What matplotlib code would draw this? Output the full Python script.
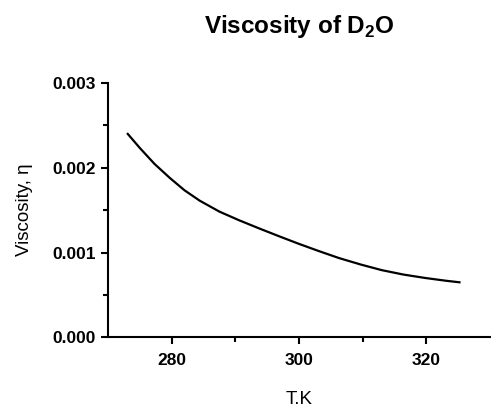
import matplotlib
matplotlib.use("Agg")
import matplotlib.pyplot as plt

plt.rcParams['font.family'] = ['Liberation Sans', 'DejaVu Sans']
plt.rcParams['mathtext.fontset'] = 'custom'
plt.rcParams['mathtext.rm'] = 'Liberation Sans:bold'
plt.rcParams['mathtext.bf'] = 'Liberation Sans:bold'

# temperature (K) and viscosity (Pa s)
temp_K = [273.1, 275.0, 277.3, 279.7, 282.0, 284.4, 287.5, 290.6, 293.75,
          296.9, 300.0, 303.1, 306.25, 309.7, 313.0, 316.4, 319.8, 323.1, 325.2]
visc = [0.002397, 0.002231, 0.002044, 0.001879, 0.001734, 0.001611, 0.001482,
        0.001380, 0.001284, 0.001191, 0.001102, 0.001018, 0.000936, 0.000859,
        0.000793, 0.000741, 0.000701, 0.000668, 0.000650]

x_major = [280, 300, 320]
x_minor = [290, 310]
y_major = [0.0, 0.001, 0.002, 0.003]
y_minor = [0.0005, 0.0015, 0.0025]
y_labels = ['0.000', '0.001', '0.002', '0.003']


def get_graph():
    fig = plt.figure(figsize=(4.91, 4.08), dpi=100)
    ax = fig.add_axes([0.22, 0.1728, 0.778, 0.6245])
    ax.plot(temp_K, visc, color='black', linewidth=1.6)
    ax.set_xlim(270, 330)
    ax.set_ylim(0, 0.003)

    ax.spines['top'].set_visible(False)
    ax.spines['right'].set_visible(False)
    ax.spines['left'].set_linewidth(1.5)
    ax.spines['bottom'].set_linewidth(1.5)

    ax.set_xticks(x_major)
    ax.set_xticks(x_minor, minor=True)
    ax.set_yticks(y_major)
    ax.set_yticks(y_minor, minor=True)
    ax.set_yticklabels(y_labels)
    ax.tick_params(which='major', length=5, width=1.5, labelsize=12.5, pad=6)
    ax.tick_params(axis='y', which='major', pad=4)
    ax.tick_params(which='minor', length=3.5, width=1.5)
    for lab in ax.get_xticklabels() + ax.get_yticklabels():
        lab.set_fontweight('bold')

    ax.set_xlabel('T.K', fontsize=13.5, labelpad=17)
    ax.set_ylabel('Viscosity, η', fontsize=13.5, labelpad=14)
    ax.set_title(r'Viscosity of D$_\mathbf{2}$O', fontsize=17.5, fontweight='bold', pad=36)

    fig.savefig('out.png', dpi=100)


get_graph()
